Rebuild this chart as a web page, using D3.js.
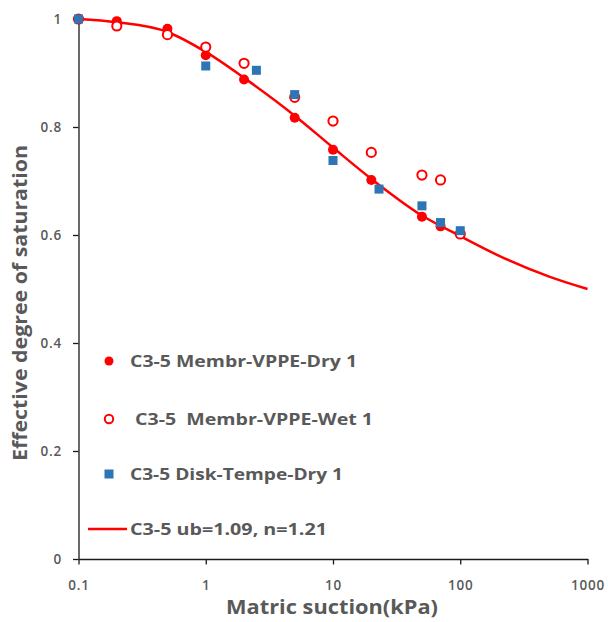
<!DOCTYPE html>
<html>
<head>
<meta charset="utf-8">
<script src="https://cdn.jsdelivr.net/npm/d3@7"></script>
<style>
  html, body { margin: 0; padding: 0; background: #fff; }
  svg { display: block; }
  text { font-family: "Open Sans", "DejaVu Sans", sans-serif; fill: #595959; }
</style>
</head>
<body>
<svg id="chart" width="608" height="622"></svg>
<script>
// Measured series: matric suction (kPa) vs effective degree of saturation
const dryX = [0.1, 0.2, 0.5, 1, 2, 5, 10, 20, 50, 70, 100];
const dryY = [1.0, 0.996, 0.982, 0.933, 0.888, 0.817, 0.758, 0.702, 0.634, 0.616, 0.602];

const wetX = [0.1, 0.2, 0.5, 1, 2, 5, 10, 20, 50, 70, 100];
const wetY = [1.0, 0.987, 0.971, 0.948, 0.918, 0.855, 0.811, 0.753, 0.711, 0.702, 0.602];

const diskX = [0.1, 1, 2.5, 5, 10, 23, 50, 70, 100];
const diskY = [1.0, 0.913, 0.905, 0.86, 0.738, 0.685, 0.654, 0.623, 0.608];

// Fitted curve (ub = 1.09, n = 1.21)
const fitX = [0.1, 0.2, 0.5, 1, 2, 5, 10, 20, 50, 100, 200, 500, 1000];
const fitY = [1.0, 0.994, 0.976, 0.939, 0.891, 0.821, 0.762, 0.704, 0.636, 0.598, 0.562, 0.523, 0.5];

const xTicks = [0.1, 1, 10, 100, 1000];
const xTickLabels = ["0.1", "1", "10", "100", "1000"];
const yTicks = [0, 0.2, 0.4, 0.6, 0.8, 1];
const yTickLabels = ["0", "0.2", "0.4", "0.6", "0.8", "1"];

const legendLabels = [
  "C3-5 Membr-VPPE-Dry 1",
  "C3-5  Membr-VPPE-Wet 1",
  "C3-5 Disk-Tempe-Dry 1",
  "C3-5 ub=1.09, n=1.21"
];

const RED = "#ff0000";
const BLUE = "#2e75b6";
const AXIS = "#1a1a1a";

const svg = d3.select("#chart");

const x = d3.scaleLog().domain([0.1, 1000]).range([78.5, 587.5]);
const y = d3.scaleLinear().domain([0, 1]).range([559, 19]);

// Axes
const xAxis = d3.axisBottom(x)
  .tickValues(xTicks)
  .tickFormat((d, i) => xTickLabels[i])
  .tickSizeInner(5.5)
  .tickSizeOuter(0)
  .tickPadding(16);

const yAxis = d3.axisLeft(y)
  .tickValues(yTicks)
  .tickFormat((d, i) => yTickLabels[i])
  .tickSizeInner(5.5)
  .tickSizeOuter(0)
  .tickPadding(11);

const gx = svg.append("g").attr("transform", `translate(0,${y(0)})`).call(xAxis);
const gy = svg.append("g").attr("transform", `translate(${x(0.1)},0)`).call(yAxis);

[gx, gy].forEach(g => {
  g.select(".domain").attr("stroke", AXIS).attr("stroke-width", 1.3);
  g.selectAll(".tick line").attr("stroke", AXIS).attr("stroke-width", 1.3);
  g.selectAll(".tick text")
    .attr("fill", "#595959")
    .style("font-family", '"Open Sans", sans-serif')
    .style("font-size", "13.5px")
    .style("font-weight", "600")
    .style("letter-spacing", "0.8px");
});

// Axis titles
svg.append("text")
  .attr("x", 332).attr("y", 614)
  .attr("text-anchor", "middle")
  .style("font-size", "19px").style("font-weight", "bold")
  .attr("textLength", 212).attr("lengthAdjust", "spacingAndGlyphs")
  .text("Matric suction(kPa)");

svg.append("text")
  .attr("transform", "translate(27,303) rotate(-90)")
  .attr("text-anchor", "middle")
  .style("font-size", "19px").style("font-weight", "bold")
  .attr("textLength", 316).attr("lengthAdjust", "spacingAndGlyphs")
  .text("Effective degree of saturation");

// Fitted curve
const line = d3.line()
  .x(d => x(d[0]))
  .y(d => y(d[1]))
  .curve(d3.curveMonotoneX);

svg.append("path")
  .datum(fitX.map((v, i) => [v, fitY[i]]))
  .attr("d", line)
  .attr("fill", "none")
  .attr("stroke", RED)
  .attr("stroke-width", 2.5);

// Membrane, drying: filled circles
svg.append("g").selectAll("circle")
  .data(dryX.map((v, i) => [v, dryY[i]]))
  .join("circle")
  .attr("cx", d => x(d[0]))
  .attr("cy", d => y(d[1]))
  .attr("r", 5)
  .attr("fill", RED);

// Membrane, wetting: open circles
svg.append("g").selectAll("circle")
  .data(wetX.map((v, i) => [v, wetY[i]]))
  .join("circle")
  .attr("cx", d => x(d[0]))
  .attr("cy", d => y(d[1]))
  .attr("r", 4.6)
  .attr("fill", "#fff")
  .attr("stroke", RED)
  .attr("stroke-width", 2);

// Tempe cell, drying: squares
const sq = 9;
svg.append("g").selectAll("rect")
  .data(diskX.map((v, i) => [v, diskY[i]]))
  .join("rect")
  .attr("x", d => x(d[0]) - sq / 2)
  .attr("y", d => y(d[1]) - sq / 2)
  .attr("width", sq)
  .attr("height", sq)
  .attr("fill", BLUE);

// Legend
const legendY = [361, 419, 474, 529];
const legendTextX = [130, 135, 130, 130];
const legendWidths = [227, 238, 213, 197];
const lg = svg.append("g");

lg.append("circle").attr("cx", 109).attr("cy", legendY[0]).attr("r", 4.5).attr("fill", RED);
lg.append("circle").attr("cx", 109).attr("cy", legendY[1]).attr("r", 4.2)
  .attr("fill", "#fff").attr("stroke", RED).attr("stroke-width", 2);
lg.append("rect").attr("x", 109 - 4.5).attr("y", legendY[2] - 4.5)
  .attr("width", 9).attr("height", 9).attr("fill", BLUE);
lg.append("line").attr("x1", 88).attr("x2", 127)
  .attr("y1", legendY[3]).attr("y2", legendY[3])
  .attr("stroke", RED).attr("stroke-width", 2.5);

legendLabels.forEach((t, i) => {
  lg.append("text")
    .attr("x", legendTextX[i])
    .attr("y", legendY[i] + 6)
    .attr("xml:space", "preserve")
    .style("white-space", "pre")
    .style("font-size", "16px").style("font-weight", "bold")
    .attr("textLength", legendWidths[i]).attr("lengthAdjust", "spacingAndGlyphs")
    .text(t);
});
</script>
</body>
</html>
